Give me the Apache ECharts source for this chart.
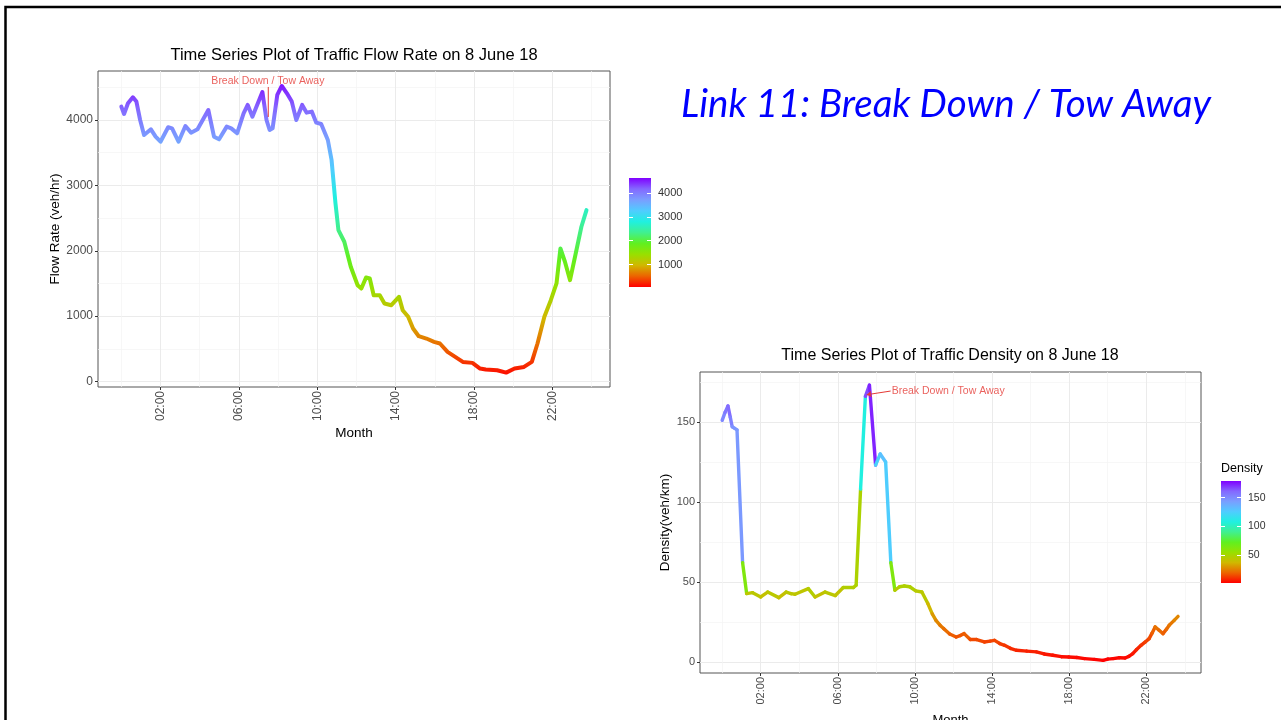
<!DOCTYPE html>
<html>
<head>
<meta charset="utf-8">
<title>Link 11: Break Down / Tow Away</title>
<script src="https://cdn.jsdelivr.net/npm/echarts@6.0.0/dist/echarts.min.js"></script>
<style>
  html, body { margin: 0; padding: 0; background: #fff; }
  #main { width: 1281px; height: 720px; }
</style>
</head>
<body>
<div id="main"></div>
<script>
// flow rate (veh/hr) by hour of day
const flowHours = [0.00, 0.14, 0.34, 0.59, 0.77, 0.96, 1.16, 1.51, 1.75, 2.00, 2.39, 2.59, 2.92, 3.27, 3.56, 3.89,
  4.44, 4.73, 4.99, 5.38, 5.61, 5.91, 6.24, 6.45, 6.69, 7.20, 7.41, 7.57, 7.72, 7.96, 8.19, 8.45, 8.70, 8.93,
  9.23, 9.46, 9.72, 9.95, 10.20, 10.54, 10.73, 10.93, 11.08, 11.38, 11.71, 12.06, 12.25, 12.49, 12.68, 12.88,
  13.19, 13.43, 13.78, 14.17, 14.36, 14.64, 14.89, 15.18, 15.57, 15.96, 16.26, 16.65, 17.04, 17.43, 17.92,
  18.31, 18.60, 19.18, 19.64, 20.07, 20.55, 20.95, 21.24, 21.59, 21.92, 22.21, 22.41, 22.64, 22.90, 23.19,
  23.48, 23.74];
const flowRate = [4204, 4092, 4255, 4347, 4281, 4000, 3770, 3857, 3745, 3668, 3888, 3872, 3668, 3908, 3806, 3857,
  4153, 3745, 3704, 3898, 3872, 3796, 4102, 4230, 4051, 4428, 4000, 3847, 3872, 4383, 4520, 4408, 4281, 4000,
  4230, 4112, 4128, 3959, 3939, 3694, 3388, 2724, 2316, 2138, 1755, 1474, 1423, 1592, 1576, 1321,
  1321, 1194, 1168, 1296, 1092, 990, 811, 694, 658, 607, 582, 454, 378, 301, 286,
  199, 184, 173, 137, 199, 224, 301, 582, 990, 1245, 1500, 2036, 1832, 1551, 1959,
  2367, 2622];

// density (veh/km) by hour of day
const densityHours = [0.00, 0.15, 0.30, 0.42, 0.52, 0.65, 0.77, 1.06, 1.27, 1.58, 2.00, 2.36, 2.94, 3.32, 3.57, 3.78,
  4.47, 4.82, 5.34, 5.87, 6.28, 6.81, 6.95, 7.18, 7.43, 7.64, 7.96, 8.20, 8.48, 8.75, 8.96,
  9.20, 9.45, 9.73, 10.04, 10.36, 10.67, 10.90, 11.09, 11.30, 11.50, 11.80, 12.14, 12.35, 12.55, 12.87,
  13.20, 13.60, 13.90, 14.13, 14.40, 14.65, 14.95, 15.27, 15.80, 16.30, 16.70, 17.15, 17.60, 17.98,
  18.40, 18.80, 19.30, 19.76, 20.00, 20.28, 20.60, 20.90, 21.10, 21.30, 21.50, 21.73, 21.95, 22.15,
  22.30, 22.46, 22.65, 22.87, 23.05, 23.19, 23.45, 23.65];
const density = [151, 156, 160, 153, 147, 146, 145, 62, 42.7, 43.3, 40.6, 43.7, 40.2, 43.7, 42.7, 42.3,
  45.8, 40.6, 43.7, 41.5, 46.5, 46.5, 48, 108, 166, 173, 123, 130, 125, 62, 44.8,
  47, 47.5, 47, 44.4, 43.7, 36.5, 30, 26, 23, 20.8, 17.5, 15.6, 16.5, 17.7, 14,
  14, 12.5, 13, 13.5, 11.5, 10.4, 8.5, 7.3, 6.8, 6.3, 5, 4.2, 3.3, 3.1,
  2.8, 2.1, 1.6, 1.0, 1.8, 2.1, 2.6, 2.5, 3.5, 5.2, 7.8, 10.4, 12.5, 14.6,
  18, 21.9, 20, 17.7, 20.5, 22.9, 26, 28.5];

const timeTicks = [2, 6, 10, 14, 18, 22];
const timeMinor = [0, 4, 8, 12, 16, 20, 24];
const flowTicks = [0, 1000, 2000, 3000, 4000];
const flowMinor = [500, 1500, 2500, 3500, 4500];
const densityTicks = [0, 50, 100, 150];
const densityMinor = [25, 75, 125, 175];
const flowLegendTicks = [1000, 2000, 3000, 4000];
const densityLegendTicks = [50, 100, 150];

const rainbow = ['#FF0000', '#EC6400', '#D0B800', '#98E000', '#60F020', '#40F090',
  '#20F0E0', '#50CCFF', '#7A9EFF', '#8468FF', '#8000FF'];

const noteText = 'Break Down / Tow Away';
const flowNote = { at: [7.48, 4597], from: [7.5, 4505], to: [7.5, 4046] };
const densityNote = { at: [8.74, 169.4], from: [8.74, 169.3], to: [7.5, 167] };

const font = '"Liberation Sans", Arial, sans-serif';
const red = '#E53935';
const hhmm = v => (v < 10 ? '0' : '') + v + ':00';
const plain = v => String(v);
const zip = (a, b) => a.map((v, i) => [v, b[i]]);

const gradient = {
  type: 'linear', x: 0, y: 1, x2: 0, y2: 0,
  colorStops: rainbow.map((c, i) => ({ offset: i / (rainbow.length - 1), color: c }))
};

function xAxes(gridIndex, min, max, labelSize, nameGap, nameSize) {
  return [{
    type: 'value', gridIndex, min, max, position: 'bottom',
    axisLine: { show: false, onZero: false },
    axisTick: { customValues: timeTicks, length: 3, lineStyle: { color: '#333' } },
    axisLabel: { customValues: timeTicks, rotate: 90, formatter: hhmm, color: '#4D4D4D',
      fontSize: labelSize, fontFamily: font, margin: 4 },
    splitLine: { show: true, lineStyle: { color: '#EBEBEB', width: 1 } },
    name: 'Month', nameLocation: 'middle', nameGap,
    nameTextStyle: { color: '#000', fontSize: nameSize, fontFamily: font }
  }, {
    type: 'value', gridIndex, min, max, position: 'bottom',
    axisLine: { show: false, onZero: false },
    axisTick: { show: false, customValues: timeMinor },
    axisLabel: { show: false, customValues: timeMinor },
    splitLine: { show: true, lineStyle: { color: '#F4F4F4', width: 0.7 } }
  }];
}

function yAxes(gridIndex, min, max, ticks, minor, labelSize, name, nameGap) {
  return [{
    type: 'value', gridIndex, min, max, position: 'left',
    axisLine: { show: false, onZero: false },
    axisTick: { customValues: ticks, length: 3, lineStyle: { color: '#333' } },
    axisLabel: { customValues: ticks, formatter: plain, color: '#4D4D4D', fontSize: labelSize,
      fontFamily: font, margin: 5 },
    splitLine: { show: true, lineStyle: { color: '#EBEBEB', width: 1 } },
    name, nameLocation: 'middle', nameGap,
    nameTextStyle: { color: '#000', fontSize: 13.5, fontFamily: font }
  }, {
    type: 'value', gridIndex, min, max, position: 'left',
    axisLine: { show: false, onZero: false },
    axisTick: { show: false, customValues: minor },
    axisLabel: { show: false, customValues: minor },
    splitLine: { show: true, lineStyle: { color: '#F4F4F4', width: 0.7 } }
  }];
}

function legendAxes(gridIndex, min, max, ticks, labelSize) {
  const tick = { inside: true, length: 4, customValues: ticks, lineStyle: { color: '#fff', width: 1 } };
  return [{
    type: 'value', gridIndex, min, max, position: 'left',
    axisLine: { show: false, onZero: false }, axisTick: tick, axisLabel: { show: false },
    splitLine: { show: false }
  }, {
    type: 'value', gridIndex, min, max, position: 'right',
    axisLine: { show: false, onZero: false }, axisTick: tick, splitLine: { show: false },
    axisLabel: { customValues: ticks, formatter: plain, color: '#333', fontSize: labelSize,
      fontFamily: font, margin: 7 }
  }];
}

const chart = echarts.init(document.getElementById('main'));

chart.setOption({
  animation: false,
  backgroundColor: '#fff',
  grid: [
    { left: 98, top: 71, width: 512, height: 316, show: true, borderColor: '#555', borderWidth: 1,
      outerBoundsMode: 'none' },
    { left: 700, top: 372, width: 501, height: 301, show: true, borderColor: '#555', borderWidth: 1,
      outerBoundsMode: 'none' },
    { left: 629, top: 178, width: 22, height: 109, show: true, borderWidth: 0, backgroundColor: gradient,
      outerBoundsMode: 'none' },
    { left: 1221, top: 481, width: 20, height: 102, show: true, borderWidth: 0, backgroundColor: gradient,
      outerBoundsMode: 'none' }
  ],
  xAxis: [
    ...xAxes(0, -1.19, 24.94, 12, 39, 13.5),
    ...xAxes(1, -1.15, 24.84, 11, 41, 13),
    { type: 'value', gridIndex: 2, show: false },
    { type: 'value', gridIndex: 3, show: false }
  ],
  yAxis: [
    ...yAxes(0, -83, 4749, flowTicks, flowMinor, 12, 'Flow Rate (veh/hr)', 35),
    ...yAxes(1, -6.9, 181.2, densityTicks, densityMinor, 11, 'Density(veh/km)', 27),
    ...legendAxes(2, 55, 4633, flowLegendTicks, 11),
    ...legendAxes(3, 1, 179, densityLegendTicks, 10.5)
  ],
  visualMap: [
    { type: 'continuous', show: false, seriesIndex: 0, dimension: 1, min: 55, max: 4633,
      inRange: { color: rainbow } },
    { type: 'continuous', show: false, seriesIndex: 3, dimension: 1, min: 1, max: 179,
      inRange: { color: rainbow } }
  ],
  series: [
    {
      type: 'line', xAxisIndex: 0, yAxisIndex: 0, data: zip(flowHours, flowRate),
      showSymbol: false, silent: true, z: 3,
      lineStyle: { width: 4, cap: 'round', join: 'round' }
    },
    {
      type: 'line', xAxisIndex: 0, yAxisIndex: 0, data: [flowNote.from, flowNote.to],
      showSymbol: false, silent: true, z: 4,
      lineStyle: { width: 1, color: red }
    },
    {
      type: 'scatter', xAxisIndex: 0, yAxisIndex: 0, data: [flowNote.at],
      symbolSize: 0, silent: true, z: 5,
      label: { show: true, position: 'inside', formatter: noteText, color: red,
        fontSize: 10.5, fontFamily: font }
    },
    {
      // each segment takes the colour of its first point, like geom_line
      type: 'custom', xAxisIndex: 2, yAxisIndex: 2, data: zip(densityHours, density),
      encode: { x: 0, y: 1 }, silent: true, z: 3,
      renderItem(params, api) {
        const i = params.dataIndex;
        if (i >= densityHours.length - 1) return null;
        const p0 = api.coord([densityHours[i], density[i]]);
        const p1 = api.coord([densityHours[i + 1], density[i + 1]]);
        return {
          type: 'line',
          shape: { x1: p0[0], y1: p0[1], x2: p1[0], y2: p1[1] },
          style: { stroke: api.visual('color'), lineWidth: 3.4, lineCap: 'round' }
        };
      }
    },
    {
      type: 'scatter', xAxisIndex: 2, yAxisIndex: 2, data: [densityNote.at],
      symbolSize: 0, silent: true, z: 5,
      label: { show: true, position: 'right', distance: 1, formatter: noteText, color: red,
        fontSize: 10.5, fontFamily: font },
      markLine: {
        silent: true, symbol: ['none', 'arrow'], symbolSize: 5,
        label: { show: false },
        lineStyle: { color: red, width: 1, type: 'solid' },
        data: [[{ coord: densityNote.from }, { coord: densityNote.to }]]
      }
    }
  ],
  graphic: [
    { type: 'rect', shape: { x: 5.5, y: 7, width: 1300, height: 740 },
      style: { fill: 'none', stroke: '#000', lineWidth: 2.5 }, silent: true },
    { type: 'text', x: 354, y: 55, silent: true,
      style: { text: 'Time Series Plot of Traffic Flow Rate on 8 June 18', fill: '#000',
        font: '16.5px ' + font, textAlign: 'center', textVerticalAlign: 'middle' } },
    { type: 'text', x: 950, y: 356, silent: true,
      style: { text: 'Time Series Plot of Traffic Density on 8 June 18', fill: '#000',
        font: '16px ' + font, textAlign: 'center', textVerticalAlign: 'middle' } },
    { type: 'text', x: 1221, y: 469, silent: true,
      style: { text: 'Density', fill: '#000', font: '12.5px ' + font,
        textAlign: 'left', textVerticalAlign: 'middle' } },
    { type: 'text', x: 946, y: 105, silent: true,
      style: { text: 'Link 11: Break Down / Tow Away', fill: '#0000FF',
        font: 'italic 38.5px Lato, "Open Sans", sans-serif', textAlign: 'center', textVerticalAlign: 'middle' } }
  ]
});
</script>
</body>
</html>
